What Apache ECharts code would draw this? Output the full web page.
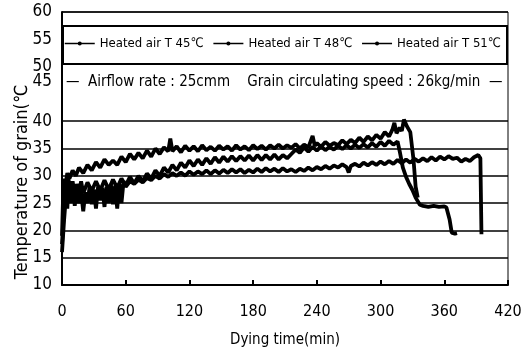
<!DOCTYPE html>
<html>
<head>
<meta charset="utf-8">
<script src="https://cdn.jsdelivr.net/npm/echarts@6/dist/echarts.min.js"></script>
<style>html,body{margin:0;padding:0;background:#fff}#c{width:531px;height:358px}</style>
</head>
<body>
<div id="c"></div>
<script>
var seriesNames = ['Heated air T 45\u2103', 'Heated air T 48\u2103', 'Heated air T 51\u2103'];
var xTicks = [0, 60, 120, 180, 240, 300, 360, 420];
var yTicks = [10, 15, 20, 25, 30, 35, 40, 45, 50, 55, 60];

var t45 = [0,1,2,3,4,5,6,8,10,12,14,16,18,20,22,24,26,28,30,32,34,36,38,40,42,44,46,48,50,52,54,56,58,60,64,68,72,76,80,84,88,92,96,100,104,108,112,116,120,124,128,132,136,140,144,148,152,156,160,164,168,172,176,180,184,188,192,196,200,204,208,212,216,220,224,228,232,236,240,244,248,252,256,260,264,268,270,272,276,280,284,288,292,296,300,304,308,312,316,320,324,328,332,336,340,344,348,352,356,360,364,368,372,376,380,384,388,392,394,395];
var v45 = [16,19,22,24.5,27,24,28,25,28.5,24.5,27.5,25,27,23.5,27,25,28,24.8,27.5,24,28,25.5,27.8,24.3,28,25,28.5,24.8,28.2,24,28.5,25,29,28,29,28.5,29.3,28.8,29.6,29.2,30,29.5,30.3,29.8,30.5,30,30.6,30,30.8,30.2,30.8,30.3,31,30.3,31,30.4,31.1,30.5,31.2,30.6,31.2,30.5,31.1,30.6,31.3,30.7,31.4,30.8,31.3,30.7,31.4,30.8,31.2,30.7,31.3,30.9,31.5,31,31.6,31.2,31.8,31.3,31.9,31.5,32.1,31.6,30.6,31.8,32.2,31.7,32.4,31.9,32.5,32,32.6,32.1,32.7,32.2,32.9,32.3,33,32.4,33.1,32.6,33.2,32.7,33.4,32.8,33.5,33,33.6,33.1,33.3,32.6,33.1,32.7,33.4,33.8,33.2,19.3];

var t48 = [0,1,2,3,4,6,8,10,12,14,16,18,20,24,28,32,36,40,44,48,52,56,60,64,68,72,76,80,84,88,92,96,100,104,108,112,116,120,124,128,132,136,140,144,148,152,156,160,164,168,172,176,180,184,188,192,196,200,204,208,212,216,220,224,228,232,236,240,244,248,252,256,260,264,268,272,276,280,284,288,292,296,300,304,308,312,316,318,321,324,327,330,333,337,340,345,350,355,360,362,365,367,370,372];
var v48 = [17.5,21,25,28,26.5,29.5,27,29,26.5,28.5,27,29,26.8,28.8,27.2,29,27.3,29.2,27.5,29.3,27.8,29.5,28.2,29.8,28.6,30,29,30.4,29.5,31,30,31.5,30.6,32,31,32.4,31.5,32.8,31.8,33,32,33.2,32.2,33.4,32.4,33.5,32.6,33.6,32.7,33.6,32.8,33.7,32.8,33.8,32.9,33.8,33,33.9,33,33.8,33.2,34,34.8,34.2,35.2,34.4,35.3,34.6,35.4,34.7,35.3,34.8,35.5,34.9,35.6,35,35.7,35.1,35.8,35.2,36,35.3,36.2,35.5,36.4,35.7,36.3,34.5,31.5,29.8,28.5,27.4,26,24.7,24.5,24.3,24.5,24.3,24.4,24.2,22,19.6,19.4,19.5];

var t51 = [0,1,2,3,5,7,10,13,16,20,24,28,32,36,40,44,48,52,56,60,64,68,72,76,80,84,88,92,96,100,102,104,108,112,116,120,124,128,132,136,140,144,148,152,156,160,164,168,172,176,180,184,188,192,196,200,204,208,212,216,220,224,228,232,236,238,240,244,248,252,256,260,264,268,272,276,280,284,288,292,296,300,304,308,311,313,315,318,320,322,325,328,331,333,335];
var v51 = [19,26,29.5,28,30.5,29.5,31,30,31.5,30.5,32,31,32.5,31.5,33,32,32.8,32,33.5,32.5,34,33,34.2,33.2,34.6,33.5,35,34,35.2,34.5,36.8,34.5,35.4,34.3,35.5,34.6,35.4,34.5,35.6,34.7,35.3,34.6,35.5,34.8,35.4,34.6,35.6,34.8,35.4,34.7,35.6,34.9,35.5,34.8,35.6,35,35.7,35,35.6,35.1,35.8,35,35.7,35.2,37.3,35.5,36,35.3,36.2,35.5,36,35.6,36.5,35.8,36.6,36,37,36.2,37.2,36.5,37.5,36.8,38,37.2,38.4,39.7,37.8,38.8,38.2,40.3,39,38,33,28,26];

function pairs(t, v) { return t.map(function (x, i) { return [x, v[i]]; }); }

var FONT = '"DejaVu Sans Condensed", "Liberation Sans", sans-serif';
var gridColors = yTicks.map(function (v) { return (v === 45 || v === 50) ? 'rgba(0,0,0,0)' : '#000'; });

var chart = echarts.init(document.getElementById('c'), null, { renderer: 'canvas' });
var lineStyle = { color: '#000', width: 3.8 };
function mk(name, data) {
  return {
    name: name, type: 'line', data: data, showSymbol: false, symbol: 'circle', symbolSize: 4,
    lineStyle: lineStyle, itemStyle: { color: '#000' }, animation: false
  };
}
chart.setOption({
  animation: false,
  backgroundColor: '#fff',
  grid: { left: 62, right: 23, top: 12, bottom: 73, show: true, borderColor: '#000', borderWidth: 1 },
  legend: {
    left: 64, top: 37, z: 10,
    padding: 0, itemGap: 9, itemWidth: 30, itemHeight: 5,
    lineStyle: { width: 1.5 },
    textStyle: { fontFamily: FONT, fontSize: 13, color: '#000' },
    data: seriesNames
  },
  graphic: [
    { type: 'rect', z: 5, shape: { x: 63, y: 26, width: 444, height: 38 }, style: { fill: '#fff', stroke: '#000', lineWidth: 2 } },
    { type: 'text', z: 6, left: 66, top: 75,
      style: { text: '\u2014  Airflow rate : 25cmm    Grain circulating speed : 26kg/min  \u2014', font: '15px "DejaVu Sans Condensed", "Liberation Sans", sans-serif', fill: '#000' } },
    { type: 'text', z: 6, x: 22, y: 182, rotation: Math.PI / 2,
      style: { text: 'Temperature of grain(\u2103', font: '18px "DejaVu Sans Condensed", "Liberation Sans", sans-serif', fill: '#000', align: 'center', verticalAlign: 'middle' } }
  ],
  xAxis: {
    type: 'value', min: 0, max: 420, interval: 60,
    name: 'Dying time(min)', nameLocation: 'middle', nameGap: 48,
    nameTextStyle: { fontFamily: FONT, fontSize: 15, color: '#000' },
    axisLine: { lineStyle: { color: '#000', width: 2 } },
    axisTick: { inside: true, length: 5, lineStyle: { color: '#000', width: 2 } },
    axisLabel: { fontFamily: FONT, fontSize: 16, color: '#000', margin: 19 },
    splitLine: { show: false }
  },
  yAxis: {
    type: 'value', min: 10, max: 60, interval: 5,
    axisLine: { show: true, lineStyle: { color: '#000', width: 2 } },
    axisTick: { show: false },
    axisLabel: {
      fontFamily: FONT, fontSize: 17, color: '#000', margin: 10,
      formatter: function (v) { return v === 45 ? '{s|45}' : String(v); },
      rich: { s: { fontFamily: FONT, fontSize: 17, color: '#000', padding: [0, 0, 24, 0] } }
    },
    splitLine: { show: true, lineStyle: { color: gridColors, width: 1.5 } }
  },
  series: [mk(seriesNames[0], pairs(t45, v45)), mk(seriesNames[1], pairs(t48, v48)), mk(seriesNames[2], pairs(t51, v51))]
});
</script>
</body>
</html>
